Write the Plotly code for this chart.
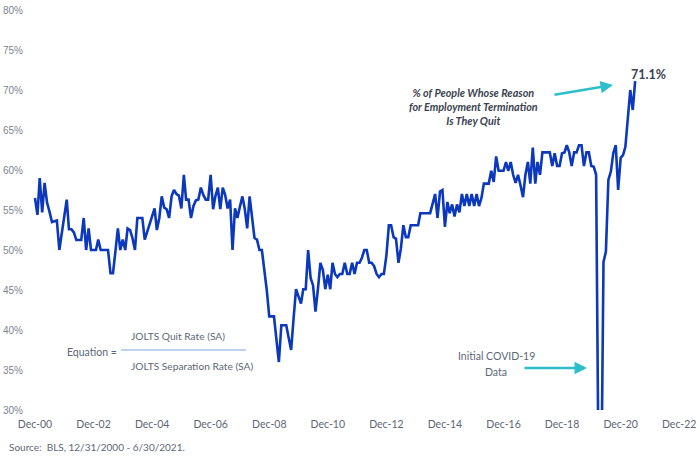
import pandas as pd
import plotly.graph_objects as go

# ---------------- data ----------------
# Quits as % of total separations (monthly, Dec-2000 .. Jun-2021)
quit_share_pct = [
    56.5, 54.4, 59.0, 54.7, 58.4, 55.9, 54.8, 53.5, 53.6, 53.7,   # 0-9
    50.0, 51.9, 54.0, 56.3, 52.6, 52.6, 52.2, 51.25, 51.25, 51.25,  # 10-19
    54.0, 50.0, 52.7, 50.0, 50.0, 50.0, 51.3, 50.0, 50.0, 50.0,   # 20-29
    50.0, 47.1, 47.1, 49.8, 52.7, 50.0, 51.3, 50.0, 52.7, 52.5,   # 30-39
    51.5, 50.0, 54.0, 54.0, 54.0, 51.3, 52.3, 53.5, 54.5, 55.2,   # 40-49
    52.5, 54.0, 56.7, 55.3, 55.1, 54.0, 56.7, 57.5, 57.0, 56.8,   # 50-59
    55.2, 59.4, 56.3, 56.3, 54.0, 55.5, 56.2, 56.3, 57.8, 56.9,   # 60-69
    56.3, 56.3, 59.4, 55.1, 56.7, 57.8, 55.1, 57.8, 56.9, 55.2,   # 70-79
    56.3, 50.0, 55.2, 54.0, 55.4, 56.7, 55.2, 52.7, 56.7, 54.2,   # 80-89
    51.5, 51.3, 50.0, 50.0, 47.5, 45.0, 41.7, 41.7, 41.7, 38.8,   # 90-99
    36.0, 40.6, 40.6, 40.6, 39.0, 37.5, 41.5, 45.1, 44.2, 43.3,   # 100-109
    45.1, 45.1, 50.0, 46.5, 45.6, 42.3, 45.2, 48.4, 47.5, 45.1,   # 110-119
    46.9, 45.1, 48.4, 47.0, 46.6, 47.0, 47.0, 48.4, 47.0, 47.0,   # 120-129
    48.4, 47.0, 48.4, 48.4, 49.0, 50.0, 50.0, 48.4, 48.4, 48.0,   # 130-139
    47.0, 46.6, 47.0, 47.0, 49.3, 53.1, 53.1, 51.6, 51.4, 48.4,   # 140-149
    50.2, 53.1, 51.6, 51.6, 53.1, 53.1, 53.1, 53.1, 54.6, 54.6,   # 150-159
    54.6, 54.6, 54.6, 55.8, 57.0, 54.0, 57.3, 57.5, 52.9, 56.0,   # 160-169
    54.6, 55.7, 54.2, 55.7, 54.7, 57.0, 55.5, 57.0, 55.5, 57.0,   # 170-179
    55.5, 57.0, 55.5, 56.5, 58.3, 58.3, 58.3, 59.9, 58.5, 61.7,   # 180-189
    59.9, 59.9, 59.9, 61.0, 59.9, 61.0, 59.4, 58.4, 59.4, 58.1,   # 190-199
    56.6, 59.4, 61.0, 58.3, 62.8, 58.3, 61.0, 59.4, 62.2, 62.2,   # 200-209
    62.2, 62.2, 60.5, 62.1, 60.5, 60.5, 62.1, 62.2, 63.1, 62.2,   # 210-219
    60.5, 62.2, 62.2, 63.1, 63.1, 60.5, 62.2, 62.2, 60.5, 60.4,   # 220-229
    59.4, 21.0, 16.5, 48.5, 49.8, 58.75, 59.8, 62.1, 63.1, 57.5,  # 230-239
    61.5, 61.9, 62.9, 66.3, 70.0, 67.5, 71.1,                     # 240-246
]
dates = pd.date_range("2000-12-31", periods=len(quit_share_pct), freq="ME")

x_tick_labels = ["Dec-00", "Dec-02", "Dec-04", "Dec-06", "Dec-08", "Dec-10",
                 "Dec-12", "Dec-14", "Dec-16", "Dec-18", "Dec-20", "Dec-22"]
x_tick_dates = [f"20{lbl[-2:]}-12-31" for lbl in x_tick_labels]
y_tick_vals = [30, 35, 40, 45, 50, 55, 60, 65, 70, 75, 80]
y_tick_labels = [f"{v}%" for v in y_tick_vals]

# ---------------- layout helpers ----------------
W, H = 700, 457
ML, MR, MT, MB = 30, 10, 10, 47
PW, PH = W - ML - MR, H - MT - MB


def px(x):
    return (x - ML) / PW


def py(y):
    return (MT + PH - y) / PH


LINE = "#0b38bd"
TEAL = "#2cbfcb"
GRAY = "#5d6776"
DARK = "#3b4350"
FONT = "Lato"

fig = go.Figure()
fig.add_trace(go.Scatter(
    x=dates, y=quit_share_pct, mode="lines",
    line=dict(color=LINE, width=2.6), hoverinfo="skip", showlegend=False,
))

ann = []
# headline annotation
ann.append(dict(
    x=px(473), y=py(106.5), xref="paper", yref="paper", showarrow=False,
    text="<b><i>% of People Whose Reason<br>for Employment Termination<br>Is They Quit</i></b>",
    align="center", xanchor="center", yanchor="middle",
    font=dict(family=FONT, size=10.8, color=DARK),
))
ann.append(dict(
    x=px(613), y=py(85), xref="paper", yref="paper", text="", showarrow=True,
    ax=553 - 613, ay=95 - 85, arrowhead=2, arrowsize=1, arrowwidth=2.5,
    arrowcolor=TEAL,
))
ann.append(dict(
    x=px(648), y=py(75), xref="paper", yref="paper", showarrow=False,
    text="<b>71.1%</b>", xanchor="center", yanchor="middle",
    font=dict(family=FONT, size=12.5, color=DARK),
))
# COVID note
ann.append(dict(
    x=px(496), y=py(356), xref="paper", yref="paper", showarrow=False,
    text="Initial COVID-19", xanchor="center", yanchor="middle",
    font=dict(family=FONT, size=10.5, color=GRAY),
))
ann.append(dict(
    x=px(496), y=py(372), xref="paper", yref="paper", showarrow=False,
    text="Data", xanchor="center", yanchor="middle",
    font=dict(family=FONT, size=10.5, color=GRAY),
))
ann.append(dict(
    x=px(587), y=py(368), xref="paper", yref="paper", text="", showarrow=True,
    ax=523 - 587, ay=0, arrowhead=2, arrowsize=1, arrowwidth=2.5,
    arrowcolor=TEAL,
))
# equation
ann.append(dict(
    x=px(65), y=py(352), xref="paper", yref="paper", showarrow=False,
    text="Equation =", xanchor="left", yanchor="middle",
    font=dict(family=FONT, size=10.5, color=GRAY),
))
ann.append(dict(
    x=px(129), y=py(336), xref="paper", yref="paper", showarrow=False,
    text="JOLTS Quit Rate (SA)", xanchor="left", yanchor="middle",
    font=dict(family=FONT, size=10.2, color=GRAY),
))
ann.append(dict(
    x=px(129), y=py(366), xref="paper", yref="paper", showarrow=False,
    text="JOLTS Separation Rate (SA)", xanchor="left", yanchor="middle",
    font=dict(family=FONT, size=10.2, color=GRAY),
))
# source
ann.append(dict(
    x=px(7), y=py(447), xref="paper", yref="paper", showarrow=False,
    text="Source:  BLS, 12/31/2000 - 6/30/2021.", xanchor="left", yanchor="middle",
    font=dict(family=FONT, size=10, color=GRAY),
))

shapes = [dict(
    type="line", xref="paper", yref="paper",
    x0=px(121), x1=px(246), y0=py(350), y1=py(350),
    line=dict(color="#a9c5e8", width=1.5),
)]

fig.update_layout(
    width=W, height=H, margin=dict(l=ML, r=MR, t=MT, b=MB, autoexpand=False),
    paper_bgcolor="white", plot_bgcolor="white",
    showlegend=False, annotations=ann, shapes=shapes,
    xaxis=dict(
        type="date", range=["2000-10-30", "2023-05-15"],
        tickvals=x_tick_dates, ticktext=x_tick_labels,
        showgrid=False, zeroline=False, showline=False, ticks="",
        ticklabelstandoff=6,
        tickfont=dict(family=FONT, size=10.5, color=GRAY),
    ),
    yaxis=dict(
        range=[30, 80], tickvals=y_tick_vals, ticktext=y_tick_labels,
        showgrid=False, zeroline=False, showline=False, ticks="",
        ticklabelstandoff=6,
        tickfont=dict(family="Liberation Sans", size=10, color="#7b8591"),
    ),
)

fig.write_html("out.html")
